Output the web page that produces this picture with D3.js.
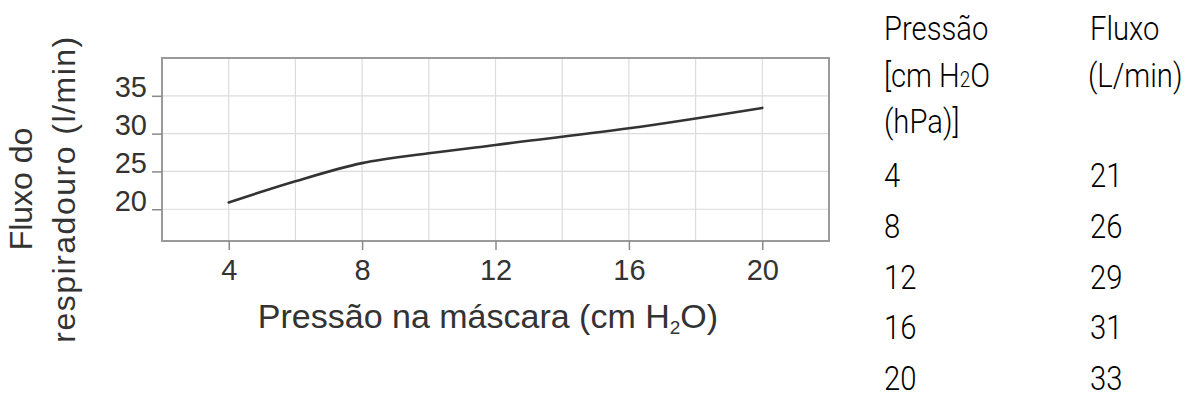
<!DOCTYPE html>
<html>
<head>
<meta charset="utf-8">
<script src="https://cdn.jsdelivr.net/npm/d3@7"></script>
<style>
    body { margin: 0; background: #fff; }
    svg { display: block; }
</style>
</head>
<body>
<svg id="drawChart" width="1187" height="398"></svg>
<script>
//Data
let curvePressure = [4, 6, 8, 10, 12, 16, 20];
let curveFlow = [20.9, 23.7, 26.1, 27.4, 28.5, 30.7, 33.4];
//Axis ticks
let xTicks = [4, 8, 12, 16, 20];
let xGrid = [4, 6, 8, 10, 12, 14, 16, 18, 20];
let yTicks = [20, 25, 30, 35];
//Table on the right
let tablePressure = ["4", "8", "12", "16", "20"];
let tableFlow = ["21", "26", "29", "31", "33"];

let svg = d3.select("#drawChart");
let chartFont = "'Liberation Sans', Arial, sans-serif";
let tableFont = "Roboto, sans-serif";

//Plot area
let plotLeft = 162, plotRight = 829, plotTop = 58, plotBottom = 241;

//Set Scale
let x = d3.scaleLinear().domain([2, 22]).range([plotLeft, plotRight]);
let y = d3.scaleLinear().domain([15.8, 40]).range([plotBottom, plotTop]);

//Grid lines
svg.append("g")
    .selectAll("line")
    .data(xGrid)
    .enter().append("line")
    .attr("x1", d => x(d)).attr("x2", d => x(d))
    .attr("y1", plotTop).attr("y2", plotBottom)
    .attr("stroke", "#dcdcdc")
    .attr("stroke-width", 1.2);

svg.append("g")
    .selectAll("line")
    .data(yTicks)
    .enter().append("line")
    .attr("x1", plotLeft).attr("x2", plotRight)
    .attr("y1", d => y(d)).attr("y2", d => y(d))
    .attr("stroke", "#dcdcdc")
    .attr("stroke-width", 1.2);

//Frame
svg.append("rect")
    .attr("x", plotLeft).attr("y", plotTop)
    .attr("width", plotRight - plotLeft).attr("height", plotBottom - plotTop)
    .attr("fill", "none")
    .attr("stroke", "#9a9a9a")
    .attr("stroke-width", 2);

//X axis
let xAxis = svg.append("g")
    .attr("transform", "translate(0," + plotBottom + ")")
    .call(d3.axisBottom(x).tickValues(xTicks).tickSize(9).tickPadding(9));
xAxis.select(".domain").remove();
xAxis.selectAll("line").attr("stroke", "#8a8a8a").attr("stroke-width", 1.5);
xAxis.selectAll("text")
    .attr("font-family", chartFont)
    .attr("font-size", "29px")
    .attr("fill", "#333");

//Y axis
let yAxis = svg.append("g")
    .attr("transform", "translate(" + plotLeft + ",0)")
    .call(d3.axisLeft(y).tickValues(yTicks).tickSize(10).tickPadding(5));
yAxis.select(".domain").remove();
yAxis.selectAll("line").attr("stroke", "#8a8a8a").attr("stroke-width", 1.5);
yAxis.selectAll("text")
    .attr("font-family", chartFont)
    .attr("font-size", "29px")
    .attr("fill", "#333")
    .attr("dy", "1");

//Draw the curve
let line = d3.line()
    .x((d, i) => x(curvePressure[i]))
    .y(d => y(d))
    .curve(d3.curveMonotoneX);

svg.append("path")
    .datum(curveFlow)
    .attr("fill", "none")
    .attr("stroke", "#333")
    .attr("stroke-width", 2.6)
    .attr("stroke-linecap", "round")
    .attr("d", line);

//X title
let xTitle = svg.append("text")
    .attr("x", 488)
    .attr("y", 328)
    .attr("text-anchor", "middle")
    .attr("font-family", chartFont)
    .attr("font-size", "34px")
    .attr("fill", "#333");
xTitle.append("tspan").text("Pressão na máscara (cm H");
xTitle.append("tspan").attr("font-size", "19px").attr("dy", 6).text("2");
xTitle.append("tspan").attr("dy", -6).text("O)");

//Y title (two lines)
let yTitle = svg.append("text")
    .attr("transform", "translate(32,189) rotate(-90)")
    .attr("text-anchor", "middle")
    .attr("font-family", chartFont)
    .attr("font-size", "32px")
    .attr("fill", "#333");
yTitle.append("tspan").attr("x", 0).attr("y", 0).text("Fluxo do");
yTitle.append("tspan").attr("x", 0).attr("y", 43).attr("letter-spacing", "1.5px").text("respiradouro (l/min)");

//Table, condensed look by squeezing the text horizontally
let colP = 884, colF = 1090;
let squeeze = 0.86;
let tableText = (px, py) => svg.append("text")
    .attr("transform", "translate(" + px + "," + py + ") scale(" + squeeze + ",1)")
    .attr("font-family", tableFont)
    .attr("font-weight", 300)
    .attr("font-size", "34px")
    .attr("fill", "#000");

tableText(colP, 40).text("Pressão");
let unitLine = tableText(colP, 87);
unitLine.append("tspan").text("[cm H");
unitLine.append("tspan").attr("font-size", "22px").text("2");
unitLine.append("tspan").text("O");
tableText(colP, 133).text("(hPa)]");
tableText(colF, 40).text("Fluxo");
tableText(colF - 2, 87).text("(L/min)");

let rowY = d3.scalePoint().domain(tablePressure).range([187, 390]);

tablePressure.forEach((d, i) => {
    tableText(colP, rowY(d)).text(d);
    tableText(colF, rowY(d)).text(tableFlow[i]);
});
</script>
</body>
</html>
